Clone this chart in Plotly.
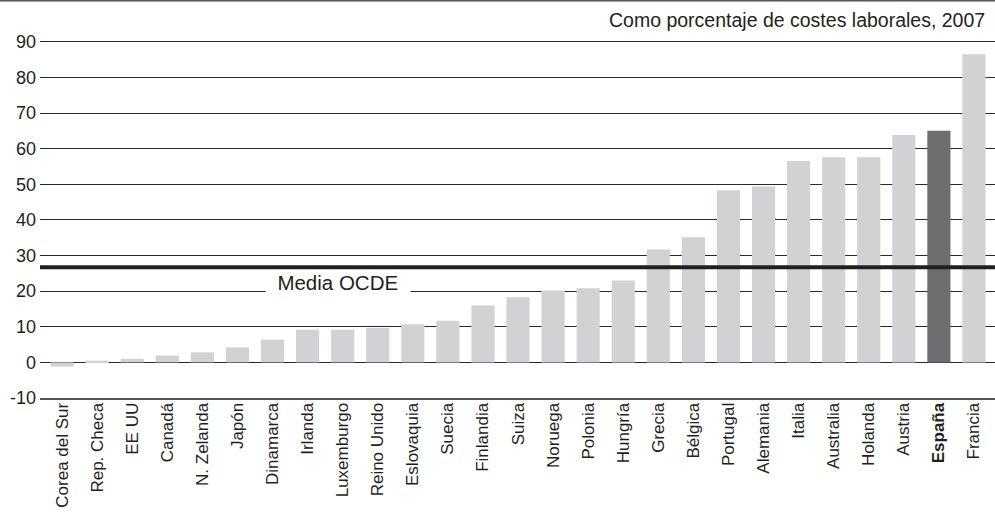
import plotly.graph_objects as go

# ---- data ----
countries = ["Corea del Sur", "Rep. Checa", "EE UU", "Canadá", "N. Zelanda", "Japón",
             "Dinamarca", "Irlanda", "Luxemburgo", "Reino Unido", "Eslovaquia", "Suecia",
             "Finlandia", "Suiza", "Noruega", "Polonia", "Hungría", "Grecia", "Bélgica",
             "Portugal", "Alemania", "Italia", "Australia", "Holanda", "Austria", "España",
             "Francia"]
values = [-1.2, 0.5, 1.0, 1.9, 2.8, 4.2, 6.4, 9.2, 9.2, 9.7, 10.7, 11.7, 16.0, 18.3,
          20.2, 20.8, 23.0, 31.7, 35.1, 48.3, 49.4, 56.5, 57.6, 57.6, 63.8, 65.0, 86.5]
oecd_mean = 26.7
highlight = "España"
y_tick_values = list(range(-10, 100, 10))
title_text = "Como porcentaje de costes laborales, 2007"
mean_label = "Media OCDE"

# ---- styling ----
FONT = "Liberation Sans, Arial, Helvetica, sans-serif"
TEXT = "#231f20"
BAR = "#d1d2d4"
BAR_HI = "#6d6e70"

W, H = 995, 514
ML, MR, MT, MB = 40, 0, 40, 116
pw, ph = W - ML - MR, H - MT - MB

colors = [BAR_HI if c == highlight else BAR for c in countries]
ticktext = [f"<b>{c}</b>" if c == highlight else c for c in countries]

fig = go.Figure()
fig.add_trace(go.Bar(
    x=countries, y=values, marker=dict(color=colors, line=dict(width=0)),
    width=0.66, hoverinfo="x+y", showlegend=False,
))

fig.update_layout(
    width=W, height=H,
    margin=dict(l=ML, r=MR, t=MT, b=MB, pad=0),
    paper_bgcolor="white", plot_bgcolor="white",
    font=dict(family=FONT, color=TEXT),
    xaxis=dict(
        type="category", range=[-0.63, 26.6],
        tickmode="array", tickvals=countries, ticktext=ticktext,
        tickangle=-90, tickfont=dict(size=17, color=TEXT, family=FONT),
        showgrid=False, zeroline=False, showline=True,
        linecolor="#555555", linewidth=2, ticks="", ticklabelstandoff=-4,
    ),
    yaxis=dict(
        range=[-10, 90.5], tickmode="array", tickvals=y_tick_values,
        ticktext=[str(v) for v in y_tick_values],
        tickfont=dict(size=18, color=TEXT, family=FONT),
        showgrid=True, gridcolor="#2a2a2a", gridwidth=1.3,
        zeroline=False, showline=False, ticks="", ticklabelstandoff=3,
    ),
    shapes=[
        dict(type="line", xref="paper", yref="y", x0=0, x1=1,
             y0=oecd_mean, y1=oecd_mean, layer="above",
             line=dict(color=TEXT, width=4)),
        dict(type="line", xref="paper", yref="paper", x0=-ML / pw, x1=1,
             y0=(ph + MT - 0.75) / ph, y1=(ph + MT - 0.75) / ph, layer="above",
             line=dict(color="#555555", width=1.5)),
    ],
    annotations=[
        dict(text=title_text, xref="paper", yref="paper",
             x=(986.5 - ML) / pw, y=(ph + MT - 20) / ph,
             xanchor="right", yanchor="middle", showarrow=False,
             font=dict(size=19.5, color=TEXT, family=FONT)),
        dict(text="\u00a0\u00a0" + mean_label + "\u00a0\u00a0", xref="paper", yref="y",
             x=(338 - ML) / pw, y=22.3, xanchor="center", yanchor="middle",
             showarrow=False, bgcolor="white", borderpad=0,
             font=dict(size=20.5, color=TEXT, family=FONT)),
    ],
)

fig.write_html("out.html")
